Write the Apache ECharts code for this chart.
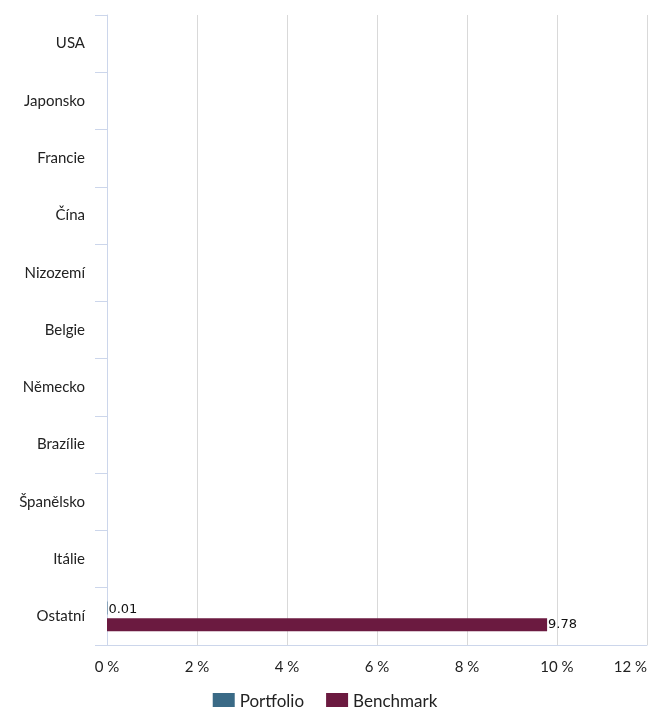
<!DOCTYPE html>
<html>
<head>
<meta charset="utf-8">
<script src="https://cdn.jsdelivr.net/npm/echarts@6/dist/echarts.min.js"></script>
<style>
html, body { margin: 0; padding: 0; background: #fff; }
#chart { width: 650px; height: 707px; }
</style>
</head>
<body>
<div id="chart"></div>
<script>
// kategorie a hodnoty
var countries = ['USA', 'Japonsko', 'Francie', 'Čína', 'Nizozemí', 'Belgie', 'Německo', 'Brazílie', 'Španělsko', 'Itálie', 'Ostatní'];
var portfolioData = ['-', '-', '-', '-', '-', '-', '-', '-', '-', '-', 0.01];
var benchmarkData = ['-', '-', '-', '-', '-', '-', '-', '-', '-', '-', 9.78];
var xMin = 0, xMax = 12, xStep = 2;

var fontMain = 'Lato, Open Sans, sans-serif';

var chart = echarts.init(document.getElementById('chart'));
var option = {
    animation: false,
    grid: { left: 107, right: 2, top: 15, bottom: 62, containLabel: false },
    legend: {
        top: 688,
        left: 'center',
        itemWidth: 22,
        itemHeight: 18,
        itemGap: 22,
        icon: 'rect',
        textStyle: { fontFamily: fontMain, fontSize: 17, color: '#222' },
        data: ['Portfolio', 'Benchmark']
    },
    xAxis: {
        type: 'value',
        min: xMin,
        max: xMax,
        interval: xStep,
        axisLine: { show: true, lineStyle: { color: '#ccd6eb' } },
        axisTick: { show: false },
        splitLine: { show: true, lineStyle: { color: '#d9d9d9' } },
        axisLabel: {
            formatter: '{value} %',
            margin: 15,
            alignMaxLabel: 'right',
            fontFamily: fontMain,
            fontSize: 15,
            color: '#222'
        }
    },
    yAxis: {
        type: 'category',
        inverse: true,
        data: countries,
        axisLine: { show: true, lineStyle: { color: '#ccd6eb' } },
        axisTick: { show: true, length: 12, lineStyle: { color: '#ccd6eb' } },
        splitLine: { show: false },
        axisLabel: {
            margin: 22,
            fontFamily: fontMain,
            fontSize: 15,
            color: '#222'
        }
    },
    series: [
        {
            name: 'Portfolio',
            type: 'bar',
            data: portfolioData,
            barWidth: 13,
            barGap: '30%',
            itemStyle: { color: '#3a6a86' },
            label: {
                show: true,
                position: 'right',
                distance: 1,
                offset: [0, 2],
                fontFamily: 'DejaVu Sans, sans-serif',
                fontSize: 13,
                color: '#111'
            }
        },
        {
            name: 'Benchmark',
            type: 'bar',
            data: benchmarkData,
            barWidth: 13,
            barGap: '30%',
            itemStyle: { color: '#6b1a40' },
            label: {
                show: true,
                position: 'right',
                distance: 1,
                fontFamily: 'DejaVu Sans, sans-serif',
                fontSize: 13,
                color: '#111'
            }
        }
    ]
};
chart.setOption(option);
</script>
</body>
</html>
